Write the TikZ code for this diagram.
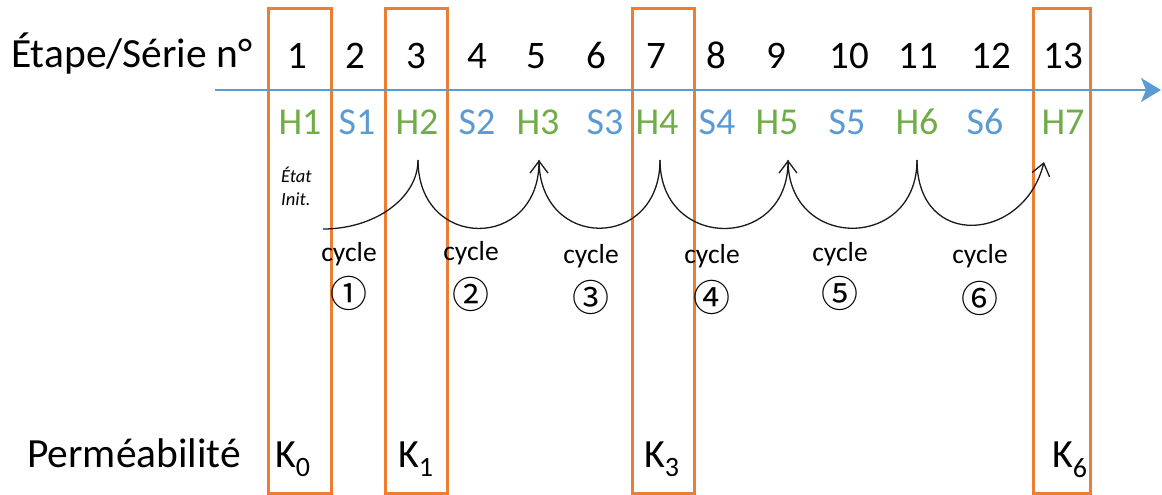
\documentclass[tikz,border=0pt]{standalone}
\usepackage{fontspec}
\setmainfont{Carlito}
\newfontfamily\circfont{Noto Sans CJK SC}
\usepackage{xcolor}
\usepackage{tikz}
\usetikzlibrary{arrows.meta,calc}
\definecolor{cKeep}{HTML}{ED7D31}
\definecolor{cAxis}{HTML}{5B9BD5}
\definecolor{cHyd}{HTML}{70AD47}
\definecolor{cSec}{HTML}{5B9BD5}
\definecolor{cInk}{HTML}{1A1A1A}
\tikzset{
  head/.style  = {font=\fontsize{41.5}{48}\selectfont, anchor=base west, inner sep=0pt},
  num/.style   = {font=\fontsize{39}{46}\selectfont, anchor=base, inner sep=0pt},
  phase/.style = {font=\fontsize{38}{46}\selectfont, anchor=base, inner sep=0pt},
  kval/.style  = {font=\fontsize{40}{48}\selectfont, anchor=base west, inner sep=0pt},
  cyc/.style   = {font=\fontsize{27.5}{32}\selectfont, anchor=base, inner sep=0pt},
  circ/.style  = {font=\circfont\fontsize{37}{42}\selectfont, inner sep=0pt},
  note/.style  = {font=\fontsize{18.5}{23}\selectfont\itshape, anchor=base west, inner sep=0pt},
  keep/.style  = {draw=cKeep, line width=3pt},
  axis/.style  = {draw=cAxis, line width=2.5pt, -{Stealth[length=20pt,width=24pt,inset=5pt]}},
  arc/.style   = {draw=cInk, line width=1.3pt},
  arcto/.style = {arc, -{Straight Barb[length=12pt,width=18pt]}},
}

\begin{document}
\begin{tikzpicture}[x=1pt, y=-1pt]
  \useasboundingbox (0,0) rectangle (1162,495);
  \foreach \a/\b in {268/331, 385/447, 632/694, 1033/1090}
    \draw[keep] (\a,9) rectangle (\b,493);
  \node[head] (etape) at (11,68) {Étape/Série n°};
  \coordinate (ax0) at (215,90);
  \coordinate (ax1) at (1161,90);
  \draw[axis] (ax0) -- (ax1);
  \foreach \i/\x in {1/297, 2/355, 3/416, 4/477, 5/536, 6/596, 7/656,
                     8/716, 9/776, 10/849, 11/918, 12/991, 13/1063}
    \node[num] (n\i) at (\x,69) {\i};
  \foreach \nm/\x/\c in {H1/300/cHyd, S1/357/cSec, H2/417/cHyd, S2/477/cSec,
                         H3/538/cHyd, S3/605/cSec, H4/657/cHyd, S4/717/cSec,
                         H5/777/cHyd, S5/847/cSec, H6/917/cHyd, S6/985/cSec,
                         H7/1063/cHyd}
    \node[phase, text=\c] (\nm) at (\x,134) {\nm};
  \node[note] (etat) at (281,182) {État};
  \node[note] (init) at (281,205) {Init.};
  \coordinate (c0) at (323,229);
  \coordinate (c1) at (418,160);
  \coordinate (c2) at (539,160);
  \coordinate (c3) at (660,160);
  \coordinate (c4) at (788,160);
  \coordinate (c5) at (917,160);
  \coordinate (c6) at (1044,162);
  \draw[arc] (c0) .. controls (375,229) and (418,198) .. (c1);
  \draw[arcto] (c1) .. controls +(0,91) and +(0,91) .. (c2);
  \draw[arc] (c2) .. controls +(0,91) and +(0,91) .. (c3);
  \draw[arcto] (c3) .. controls +(0,91) and +(0,91) .. (c4);
  \draw[arc] (c4) .. controls +(0,91) and +(0,91) .. (c5);
  \draw[arcto] (c5) .. controls +(0,91) and +(-20,80) .. (c6);
  \foreach \i/\x/\y/\yc/\d in {1/349/261/293/①, 2/471/260/294/②, 3/591/263/297/③,
                               4/712/263/297/④, 5/840/261/293/⑤, 6/980/263/298/⑥} {
    \node[cyc] (cy\i) at (\x,\y) {cycle};
    \node[circ] (ci\i) at (\x,\yc) {\d};
  }
  \node[head] (perm) at (27,467) {Perméabilité};
  \foreach \k/\x in {0/275, 1/398, 3/644, 6/1052}
    \node[kval] (K\k) at (\x,467) {K\textsubscript{\k}};
\end{tikzpicture}
\end{document}
